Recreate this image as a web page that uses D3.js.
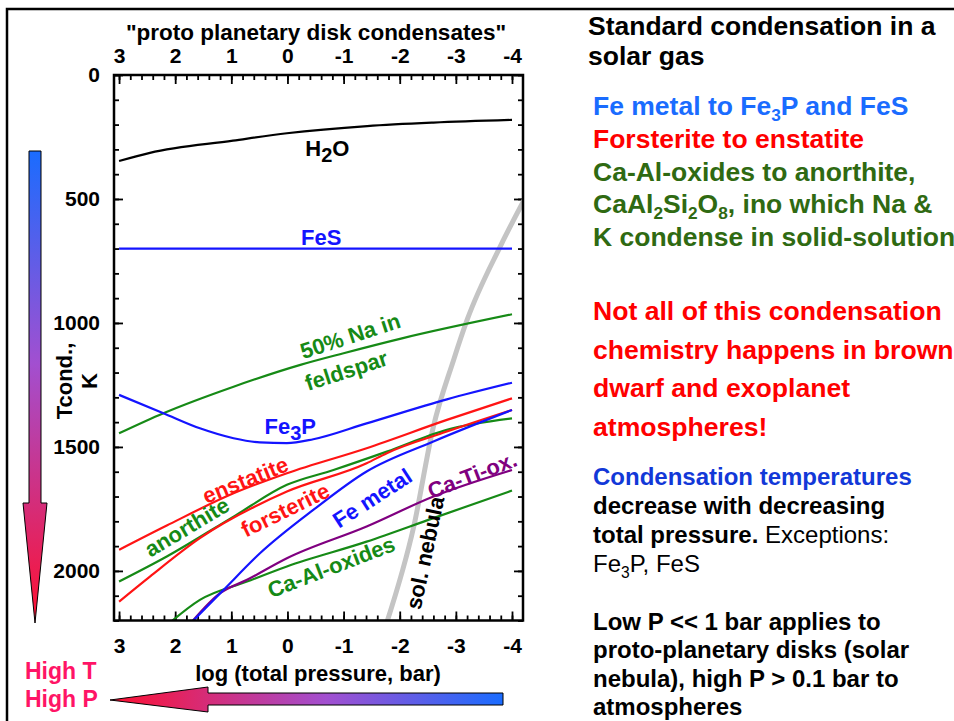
<!DOCTYPE html>
<html>
<head>
<meta charset="utf-8">
<script src="https://cdn.jsdelivr.net/npm/d3@7"></script>
<style>
  body { margin: 0; background: #fff; }
  svg text { font-family: "Liberation Sans", Arial, sans-serif; }
</style>
</head>
<body>
<div id="chart"></div>
<script>
// chart size
var svgWidth = 954;
var svgHeight = 721;

// tick values
var xMajorTicks = [3, 2, 1, 0, -1, -2, -3, -4];
var yMajorTicks = [0, 500, 1000, 1500, 2000];

// condensation curves: log P (bar) and T (K)
var h2oP = [3, 2.45, 0.97, 0.01, -1.42, -2.6, -4];
var h2oT = [347, 314, 265, 235, 206, 192, 181];

var fesP = [3, -4];
var fesT = [700, 700];

var naFeldP = [3, 2.21, 0.96, -0.23, -1.0, -2.04, -4];
var naFeldT = [1445, 1364, 1257, 1169, 1122, 1062, 965];

var fe3pP = [3, 2.21, 1.56, 0.96, 0.49, 0.01, -0.46, -1.41, -2.84, -4];
var fe3pT = [1290, 1364, 1425, 1465, 1482, 1485, 1469, 1405, 1308, 1241];

var enstatiteP = [3, 2.15, 0.96, 0.01, -1.41, -2.84, -4];
var enstatiteT = [1915, 1817, 1687, 1606, 1505, 1391, 1304];

var anorthiteP = [3, 2.15, 0.96, 0.01, -0.82, -1.77, -2.84, -4];
var anorthiteT = [2043, 1942, 1781, 1653, 1593, 1519, 1431, 1385];

var forsteriteP = [3, 2.45, 1.56, 0.01, -1.41, -1.77, -2.84, -4];
var forsteriteT = [2124, 2023, 1868, 1680, 1566, 1525, 1438, 1351];

var feMetalP = [1.72, 1.14, 0.49, -0.46, -1.41, -2.6, -4];
var feMetalT = [2210, 2077, 1929, 1754, 1599, 1478, 1351];

var caTiP = [1.72, 1.2, 0.72, 0.01, -1.41, -2.6, -4];
var caTiT = [2210, 2090, 2036, 1949, 1821, 1700, 1593];

var caAlP = [2.10, 1.56, 0.72, 0.01, -1.41, -2.6, -4];
var caAlT = [2210, 2117, 2043, 1982, 1882, 1787, 1676];

var nebulaP = [-1.76, -2.25, -2.6, -2.96, -3.2, -3.79, -4.25];
var nebulaT = [2215, 1821, 1418, 1149, 988, 692, 490];

// frame of the plot in data units
var xFrame = [3.09, -4.196];
var yFrame = [0, 2200];

var svg = d3.select("#chart")
  .append("svg")
  .attr("width", svgWidth)
  .attr("height", svgHeight);

var x = d3.scaleLinear().domain(xFrame).range([114, 523]);
var y = d3.scaleLinear().domain(yFrame).range([75, 620.5]);

// gradients for the arrows
var defs = svg.append("defs");
var vGrad = defs.append("linearGradient")
  .attr("id", "vgrad").attr("gradientUnits", "userSpaceOnUse")
  .attr("x1", 0).attr("y1", 151).attr("x2", 0).attr("y2", 623);
vGrad.append("stop").attr("offset", "0").attr("stop-color", "#1a6cff");
vGrad.append("stop").attr("offset", "0.45").attr("stop-color", "#a24fd0");
vGrad.append("stop").attr("offset", "1").attr("stop-color", "#ff1030");

var hGrad = defs.append("linearGradient")
  .attr("id", "hgrad").attr("gradientUnits", "userSpaceOnUse")
  .attr("x1", 110).attr("y1", 0).attr("x2", 503).attr("y2", 0);
hGrad.append("stop").attr("offset", "0").attr("stop-color", "#ff1030");
hGrad.append("stop").attr("offset", "0.55").attr("stop-color", "#a24fd0");
hGrad.append("stop").attr("offset", "1").attr("stop-color", "#1a6cff");

defs.append("clipPath").attr("id", "plotclip")
  .append("rect")
  .attr("x", x(xFrame[0])).attr("y", y(yFrame[0]))
  .attr("width", x(xFrame[1]) - x(xFrame[0]))
  .attr("height", y(yFrame[1]) - y(yFrame[0]));

// slide border
svg.append("path")
  .attr("d", "M7,721 L7,9 L954,9")
  .attr("fill", "none").attr("stroke", "#000").attr("stroke-width", 2.5);

// axes (ticks pointing inward)
function styleAxis(g) {
  g.select(".domain").remove();
  g.selectAll(".tick line").attr("stroke", "#000").attr("stroke-width", 1.8);
  g.selectAll(".tick text")
    .attr("fill", "#000")
    .style("font-size", "21px")
    .style("font-weight", "bold");
}

var xMinor = d3.range(-20, 16).map(function (d) { return d / 5; });
var yMinor = d3.range(0, 23).map(function (d) { return d * 100; });
var fmt = function (d) { return String(d); };

svg.append("g").attr("transform", "translate(0," + y(yFrame[1]) + ")")
  .call(d3.axisBottom(x).tickValues(xMinor).tickSize(-5).tickFormat(""))
  .call(styleAxis);
svg.append("g").attr("transform", "translate(0," + y(yFrame[1]) + ")")
  .call(d3.axisBottom(x).tickValues(xMajorTicks).tickSize(-9).tickPadding(18).tickFormat(fmt))
  .call(styleAxis);
svg.append("g").attr("transform", "translate(0," + y(yFrame[0]) + ")")
  .call(d3.axisTop(x).tickValues(xMinor).tickSize(-5).tickFormat(""))
  .call(styleAxis);
svg.append("g").attr("transform", "translate(0," + y(yFrame[0]) + ")")
  .call(d3.axisTop(x).tickValues(xMajorTicks).tickSize(-9).tickPadding(12).tickFormat(fmt))
  .call(styleAxis);
svg.append("g").attr("transform", "translate(" + x(xFrame[0]) + ",0)")
  .call(d3.axisLeft(y).tickValues(yMinor).tickSize(-5).tickFormat(""))
  .call(styleAxis);
svg.append("g").attr("transform", "translate(" + x(xFrame[0]) + ",0)")
  .call(d3.axisLeft(y).tickValues(yMajorTicks).tickSize(-9).tickPadding(14).tickFormat(fmt))
  .call(styleAxis);
svg.append("g").attr("transform", "translate(" + x(xFrame[1]) + ",0)")
  .call(d3.axisRight(y).tickValues(yMinor).tickSize(-5).tickFormat(""))
  .call(styleAxis);
svg.append("g").attr("transform", "translate(" + x(xFrame[1]) + ",0)")
  .call(d3.axisRight(y).tickValues(yMajorTicks).tickSize(-9).tickFormat(""))
  .call(styleAxis);

// curves
var line = d3.line()
  .x(function (d) { return x(d[0]); })
  .y(function (d) { return y(d[1]); })
  .curve(d3.curveMonotoneX);

var curves = [
  { p: nebulaP, t: nebulaT, color: "#c4c4c4", w: 5 },
  { p: h2oP, t: h2oT, color: "#000000", w: 2.2 },
  { p: fesP, t: fesT, color: "#1414ff", w: 2.2 },
  { p: naFeldP, t: naFeldT, color: "#168a16", w: 2.2 },
  { p: fe3pP, t: fe3pT, color: "#1414ff", w: 2.2 },
  { p: enstatiteP, t: enstatiteT, color: "#ff1414", w: 2.2 },
  { p: anorthiteP, t: anorthiteT, color: "#168a16", w: 2.2 },
  { p: forsteriteP, t: forsteriteT, color: "#ff1414", w: 2.2 },
  { p: caAlP, t: caAlT, color: "#168a16", w: 2.2 },
  { p: caTiP, t: caTiT, color: "#800080", w: 2.2 },
  { p: feMetalP, t: feMetalT, color: "#1414ff", w: 2.2 }
];

var plot = svg.append("g").attr("clip-path", "url(#plotclip)");
curves.forEach(function (c) {
  plot.append("path")
    .datum(d3.zip(c.p, c.t))
    .attr("d", line)
    .attr("fill", "none")
    .attr("stroke", c.color)
    .attr("stroke-width", c.w);
});

// frame
svg.append("rect")
  .attr("x", x(xFrame[0])).attr("y", y(yFrame[0]))
  .attr("width", x(xFrame[1]) - x(xFrame[0]))
  .attr("height", y(yFrame[1]) - y(yFrame[0]))
  .attr("fill", "none").attr("stroke", "#000").attr("stroke-width", 2.5);

// curve labels [logP, T, angle, colour, text parts]
var labels = [
  [-0.71, 294, 0, "#000", [["H"], ["2", "sub"], ["O"]]],
  [-0.6, 653, 0, "#1414ff", [["FeS"]]],
  [-1.12, 1052, -18, "#168a16", [["50% Na in"]]],
  [-1.05, 1192, -18, "#168a16", [["feldspar"]]],
  [-0.05, 1415, 0, "#1414ff", [["Fe"], ["3", "sub"], ["P"]]],
  [0.75, 1633, -22, "#ff1414", [["enstatite"]]],
  [1.79, 1823, -31, "#168a16", [["anorthite"]]],
  [0.04, 1754, -26, "#ff1414", [["forsterite"]]],
  [-1.51, 1706, -33, "#1414ff", [["Fe metal"]]],
  [-3.29, 1613, -21, "#800080", [["Ca-Ti-ox."]]],
  [-0.78, 1984, -21, "#168a16", [["Ca-Al-oxides"]]],
  [-2.45, 1927, -78, "#000", [["sol. nebula"]]]
];

labels.forEach(function (l) {
  var t = svg.append("text")
    .attr("transform", "translate(" + x(l[0]) + "," + y(l[1]) + ") rotate(" + l[2] + ")")
    .attr("text-anchor", "middle")
    .attr("dy", "0.35em")
    .attr("fill", l[3])
    .style("font-size", "22px")
    .style("font-weight", "bold");
  l[4].forEach(function (part) {
    var s = t.append("tspan").text(part[0]);
    if (part[1] === "sub") s.attr("dy", 6).style("font-size", "20px");
    else if (t.selectAll("tspan").size() > 1) s.attr("dy", -6);
  });
});

// axis titles
svg.append("text")
  .attr("x", 316).attr("y", 40)
  .attr("text-anchor", "middle")
  .style("font-size", "22.5px").style("font-weight", "bold")
  .text("\"proto planetary disk condensates\"");

svg.append("text")
  .attr("x", 318).attr("y", 681)
  .attr("text-anchor", "middle")
  .style("font-size", "22px").style("font-weight", "bold")
  .text("log (total pressure, bar)");

var yTitle = svg.append("text")
  .attr("transform", "translate(72,381) rotate(-90)")
  .attr("text-anchor", "middle")
  .style("font-size", "22px").style("font-weight", "bold");
yTitle.append("tspan").attr("x", 0).attr("y", 0).text("Tcond.,");
yTitle.append("tspan").attr("x", 0).attr("y", 25).text("K");

// arrows
svg.append("path")
  .attr("d", "M29,151 L41,151 L41,503 L47,503 L35,623 L23,503 L29,503 Z")
  .attr("fill", "url(#vgrad)").attr("stroke", "#000").attr("stroke-width", 1);
svg.append("path")
  .attr("d", "M503,693 L503,705 L208,705 L208,712 L110,700 L208,687 L208,693 Z")
  .attr("fill", "url(#hgrad)").attr("stroke", "#000").attr("stroke-width", 1);

svg.append("text").attr("x", 25).attr("y", 679)
  .attr("fill", "#ff1466")
  .style("font-size", "23px").style("font-weight", "bold")
  .text("High T");
svg.append("text").attr("x", 25).attr("y", 707)
  .attr("fill", "#ff1466")
  .style("font-size", "23px").style("font-weight", "bold")
  .text("High P");

// right-hand text
function addLine(xPos, yPos, size, parts) {
  var t = svg.append("text").attr("x", xPos).attr("y", yPos)
    .style("font-size", size + "px");
  parts.forEach(function (p) {
    var s = t.append("tspan").text(p.text)
      .attr("fill", p.color || "#000")
      .style("font-weight", p.normal ? "normal" : "bold");
    if (p.sub) {
      s.attr("dy", 6).style("font-size", (size * 0.65) + "px");
    } else if (p.after) {
      s.attr("dy", -6);
    }
  });
}

addLine(588, 35, 26.5, [{ text: "Standard condensation in a" }]);
addLine(588, 65, 26.5, [{ text: "solar gas" }]);

var lightBlue = "#1a6cff", green = "#2f6a12", red = "#ff0000", darkBlue = "#1238d8";
var bodySize = 26.5;
addLine(593, 115, bodySize, [
  { text: "Fe metal to Fe", color: lightBlue },
  { text: "3", color: lightBlue, sub: true },
  { text: "P and FeS", color: lightBlue, after: true }
]);
addLine(593, 148, bodySize, [{ text: "Forsterite to enstatite", color: red }]);
addLine(593, 181, bodySize, [{ text: "Ca-Al-oxides to anorthite,", color: green }]);
addLine(593, 213, bodySize, [
  { text: "CaAl", color: green },
  { text: "2", color: green, sub: true },
  { text: "Si", color: green, after: true },
  { text: "2", color: green, sub: true },
  { text: "O", color: green, after: true },
  { text: "8", color: green, sub: true },
  { text: ", ino which Na &", color: green, after: true }
]);
addLine(593, 246, bodySize, [{ text: "K condense in solid-solution", color: green }]);

addLine(593, 320, 26.6, [{ text: "Not all of this condensation", color: red }]);
addLine(593, 359, 26.6, [{ text: "chemistry happens in brown", color: red }]);
addLine(593, 397, 26.6, [{ text: "dwarf and exoplanet", color: red }]);
addLine(593, 436, 26.6, [{ text: "atmospheres!", color: red }]);

var noteSize = 24;
addLine(593, 485, noteSize, [{ text: "Condensation temperatures", color: darkBlue }]);
addLine(593, 514, noteSize, [{ text: "decrease with decreasing" }]);
addLine(593, 543, noteSize, [
  { text: "total pressure." },
  { text: " Exceptions:", normal: true }
]);
addLine(593, 572, noteSize, [
  { text: "Fe", normal: true },
  { text: "3", normal: true, sub: true },
  { text: "P, FeS", normal: true, after: true }
]);

addLine(593, 630, noteSize, [{ text: "Low P << 1 bar applies to" }]);
addLine(593, 658, noteSize, [{ text: "proto-planetary disks (solar" }]);
addLine(593, 687, noteSize, [{ text: "nebula), high P > 0.1 bar to" }]);
addLine(593, 715, noteSize, [{ text: "atmospheres" }]);
</script>
</body>
</html>
